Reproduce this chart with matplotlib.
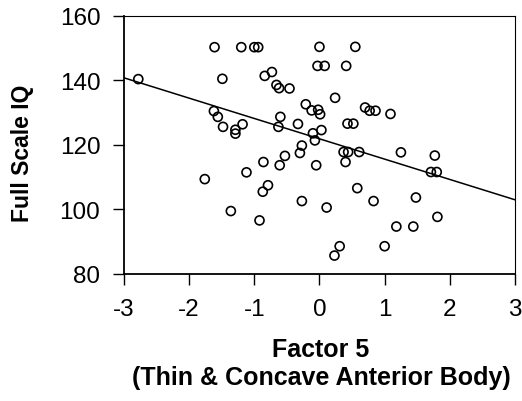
import numpy as np
from matplotlib import pyplot as plt

# Factor 5 scores vs Full Scale IQ
factor5 = [-2.78, -1.61, -1.20, -1.00, -0.94, -1.49, -0.84, -0.73, -0.66, -0.62,
           -0.46, -1.62, -1.56, -1.48, -1.29, -1.29, -1.18, -0.60, -0.63, -0.33,
           -0.21, -0.12, -0.02, 0.01, -0.10, 0.03, -0.07, -0.27, -0.30, 0.00,
           0.55, -0.03, 0.08, 0.41, 0.24, 0.70, 0.77, 0.86, 1.09, 0.43,
           0.52, -0.53, -0.61, -0.86, -1.12, -1.76, -0.79, -0.87, -0.27, -1.36,
           -0.92, -0.05, 0.37, 0.44, 0.40, 0.61, 1.25, 1.77, 1.71, 1.80,
           0.11, 0.58, 0.83, 1.48, 1.81, 1.18, 1.44, 0.31, 0.23, 1.00]
iq = [140.4, 150.3, 150.3, 150.3, 150.3, 140.5, 141.4, 142.6, 138.6, 137.6,
      137.5, 130.5, 128.7, 125.6, 124.7, 123.5, 126.4, 128.7, 125.6, 126.5,
      132.6, 130.7, 130.9, 129.5, 123.6, 124.6, 121.4, 119.8, 117.5, 150.4,
      150.4, 144.5, 144.5, 144.5, 134.6, 131.6, 130.6, 130.6, 129.6, 126.6,
      126.6, 116.6, 113.7, 114.7, 111.5, 109.4, 107.5, 105.5, 102.6, 99.5,
      96.6, 113.7, 117.8, 117.8, 114.7, 117.8, 117.7, 116.7, 111.6, 111.6,
      100.6, 106.6, 102.6, 103.7, 97.7, 94.7, 94.7, 88.6, 85.7, 88.6]

# regression line (intercept, slope) as drawn
fit_intercept = 121.9
fit_slope = -6.3

x_ticks = [-3, -2, -1, 0, 1, 2, 3]
y_ticks = [80, 100, 120, 140, 160]

plt.rcParams['font.family'] = ['Liberation Sans', 'DejaVu Sans']

fig = plt.figure(figsize=(5.22, 4.02), dpi=100)
ax = fig.add_axes([0.2375, 0.316, 0.749, 0.642])

ax.scatter(factor5, iq, s=42, facecolors='none', edgecolors='black', linewidths=1.2, zorder=3)

line_x = np.array([-3, 3])
ax.plot(line_x, fit_intercept + fit_slope * line_x, color='black', linewidth=1.1, zorder=2)

ax.set_xlim(-3, 3)
ax.set_ylim(80, 160)
ax.set_xticks(x_ticks)
ax.set_yticks(y_ticks)
ax.set_xticklabels([str(t) for t in x_ticks])
ax.tick_params(direction='out', length=8, width=1, labelsize=17.5)
ax.tick_params(axis='x', pad=9)
ax.tick_params(axis='y', pad=9)

for side in ['left', 'bottom']:
    ax.spines[side].set_linewidth(1.3)
for side in ['top', 'right']:
    ax.spines[side].set_linewidth(0.8)

ax.set_ylabel('Full Scale IQ', fontsize=16.5, fontweight='bold')
ax.yaxis.set_label_coords(-0.23, 0.47)
ax.set_xlabel('Factor 5\n(Thin & Concave Anterior Body)', fontsize=18,
              fontweight='bold', linespacing=1.2)
ax.xaxis.set_label_coords(0.504, -0.245)

fig.savefig('out.png', dpi=100)
